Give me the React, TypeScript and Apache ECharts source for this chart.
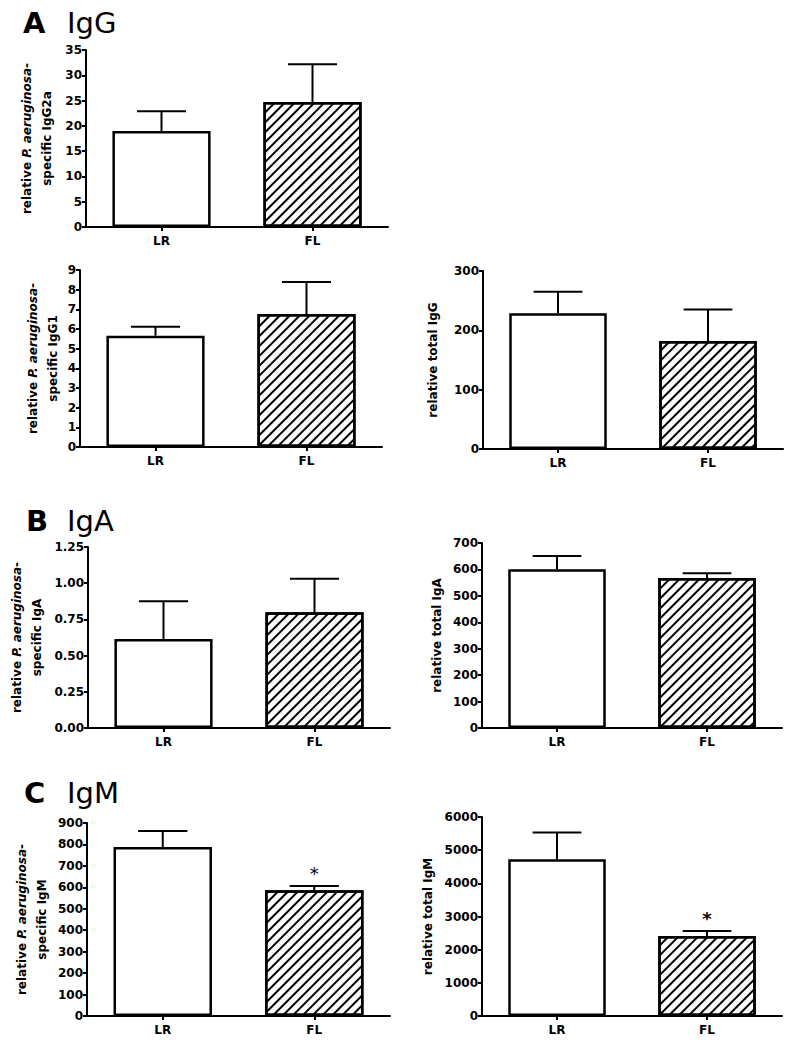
import React, { useEffect, useRef } from "react";
import * as echarts from "echarts";

const categories = ["LR", "FL"];

const igg2aMean = [19.0, 24.7];
const igg2aErr = [3.9, 7.5];
const igg1Mean = [5.66, 6.76];
const igg1Err = [0.46, 1.63];
const totalIgGMean = [229, 182];
const totalIgGErr = [36, 53];
const igaSpecMean = [0.615, 0.8];
const igaSpecErr = [0.26, 0.23];
const totalIgAMean = [601, 568];
const totalIgAErr = [50, 18];
const igmSpecMean = [788, 586];
const igmSpecErr = [75, 20];
const totalIgMMean = [4725, 2410];
const totalIgMErr = [805, 150];
const noSig = ["", ""];
const igmSpecSig = ["", "*"];
const totalIgMSig = ["", "*"];

const FONT = "DejaVu Sans";

const panels = [
  { mean: igg2aMean, err: igg2aErr, sig: noSig, max: 35, step: 5, dec: 0,
    name: ["relative ", "P. aeruginosa", "-", "specific IgG2a"],
    left: 86, top: 50, width: 302, height: 177, gap: 29, starBold: true },
  { mean: igg1Mean, err: igg1Err, sig: noSig, max: 9, step: 1, dec: 0,
    name: ["relative ", "P. aeruginosa", "-", "specific IgG1"],
    left: 80, top: 270, width: 302, height: 177, gap: 17, starBold: true },
  { mean: totalIgGMean, err: totalIgGErr, sig: noSig, max: 300, step: 100, dec: 0,
    name: "relative total IgG",
    left: 483, top: 271, width: 300, height: 178, gap: 40, starBold: true },
  { mean: igaSpecMean, err: igaSpecErr, sig: noSig, max: 1.25, step: 0.25, dec: 2,
    name: ["relative ", "P. aeruginosa", "-", "specific IgA"],
    left: 88, top: 547, width: 302, height: 181, gap: 41, starBold: true },
  { mean: totalIgAMean, err: totalIgAErr, sig: noSig, max: 700, step: 100, dec: 0,
    name: "relative total IgA",
    left: 482, top: 543, width: 300, height: 185, gap: 35, starBold: true },
  { mean: igmSpecMean, err: igmSpecErr, sig: igmSpecSig, max: 900, step: 100, dec: 0,
    name: ["relative ", "P. aeruginosa", "-", "specific IgM"],
    left: 87, top: 823, width: 303, height: 193, gap: 35, starBold: false },
  { mean: totalIgMMean, err: totalIgMErr, sig: totalIgMSig, max: 6000, step: 1000, dec: 0,
    name: "relative total IgM",
    left: 482, top: 817, width: 300, height: 199, gap: 44, starBold: true },
];

const txt = { fontFamily: FONT, fontWeight: "bold" as const, fontSize: 12, color: "#000" };

export default function App() {
  const ref = useRef<HTMLDivElement>(null);
  useEffect(() => {
    if (!ref.current) return;
    const chart = echarts.init(ref.current, null, { renderer: "svg" });
    const grid: any[] = [];
    const xAxis: any[] = [];
    const yAxis: any[] = [];
    const series: any[] = [];
    panels.forEach((p, i) => {
      grid.push({ left: p.left, top: p.top, width: p.width, height: p.height });
      xAxis.push({
        type: "category", gridIndex: i, data: categories,
        axisLine: { lineStyle: { color: "#000", width: 2 } },
        axisTick: { show: true, alignWithLabel: true, length: 4, lineStyle: { color: "#000", width: 2 } },
        axisLabel: { ...txt, margin: 8 },
      });
      const nm = Array.isArray(p.name)
        ? `{n|${p.name[0]}}{i|${p.name[1]}}{n|${p.name[2]}}\n{n|${p.name[3]}}`
        : `{n|${p.name}}`;
      yAxis.push({
        type: "value", gridIndex: i, min: 0, max: p.max, interval: p.step,
        axisLine: { show: true, lineStyle: { color: "#000", width: 2 } },
        axisTick: { show: true, length: 4, lineStyle: { color: "#000", width: 2 } },
        axisLabel: { ...txt, margin: 4, formatter: (v: number) => v.toFixed(p.dec) },
        splitLine: { show: false },
        name: nm, nameLocation: "middle", nameRotate: 90, nameGap: p.gap,
        nameTextStyle: {
          ...txt, lineHeight: 20,
          rich: {
            n: { ...txt, lineHeight: 20 },
            i: { ...txt, fontStyle: "italic", lineHeight: 20 },
          },
        },
      });
      series.push({
        type: "bar", xAxisIndex: i, yAxisIndex: i, barWidth: "65%",
        data: p.mean.map((v, k) => ({
          value: v,
          itemStyle: k === 1
            ? {
                color: "#fff", borderColor: "#000", borderWidth: 2.5,
                decal: {
                  symbol: "rect", symbolSize: 1, color: "#000", backgroundColor: "#fff",
                  dashArrayX: [1, 0], dashArrayY: [1.4, 4.6], rotation: -Math.PI / 4,
                },
              }
            : { color: "#fff", borderColor: "#000", borderWidth: 2.5 },
        })),
        silent: true,
      });
      series.push({
        type: "custom", xAxisIndex: i, yAxisIndex: i, silent: true, z: 5,
        data: p.mean.map((v, k) => [k, v, p.err[k], k]),
        renderItem: (params: any, api: any) => {
          const x = api.value(0);
          const m = api.value(1);
          const e = api.value(2);
          const k = api.value(3);
          const base = api.coord([x, m]);
          const top = api.coord([x, m + e]);
          const band = api.size([1, 0])[0];
          const hw = band * 0.1625;
          const children: any[] = [
            { type: "line", shape: { x1: base[0], y1: base[1], x2: top[0], y2: top[1] },
              style: { stroke: "#000", lineWidth: 2 } },
            { type: "line", shape: { x1: top[0] - hw, y1: top[1], x2: top[0] + hw, y2: top[1] },
              style: { stroke: "#000", lineWidth: 2 } },
          ];
          const s = p.sig[k];
          if (s) {
            children.push({
              type: "text",
              style: {
                text: s, x: top[0], y: top[1] - 13,
                font: `${p.starBold ? "bold " : ""}18px ${FONT}`,
                fill: "#000", textAlign: "center", textVerticalAlign: "middle",
              },
            });
          }
          return { type: "group", children };
        },
      });
    });
    const titleFont = `29px '${FONT}'`;
    const boldFont = `bold 29px '${FONT}'`;
    const titles = [
      { l: "A", t: "IgG", x: 23, y: 33 },
      { l: "B", t: "IgA", x: 26, y: 531 },
      { l: "C", t: "IgM", x: 24, y: 803 },
    ];
    const graphic: any[] = [];
    titles.forEach((t) => {
      graphic.push({ type: "text", left: t.x, top: t.y - 25,
        style: { text: t.l, font: boldFont, fill: "#000" } });
      graphic.push({ type: "text", left: 67, top: t.y - 25,
        style: { text: t.t, font: titleFont, fill: "#000" } });
    });
    chart.setOption({
      animation: false,
      backgroundColor: "#fff",
      grid, xAxis, yAxis, series, graphic,
    });
    return () => chart.dispose();
  }, []);
  return (
    <div
      ref={ref}
      style={{ position: "absolute", left: 0, top: 0, width: 796, height: 1050 }}
    />
  );
}
